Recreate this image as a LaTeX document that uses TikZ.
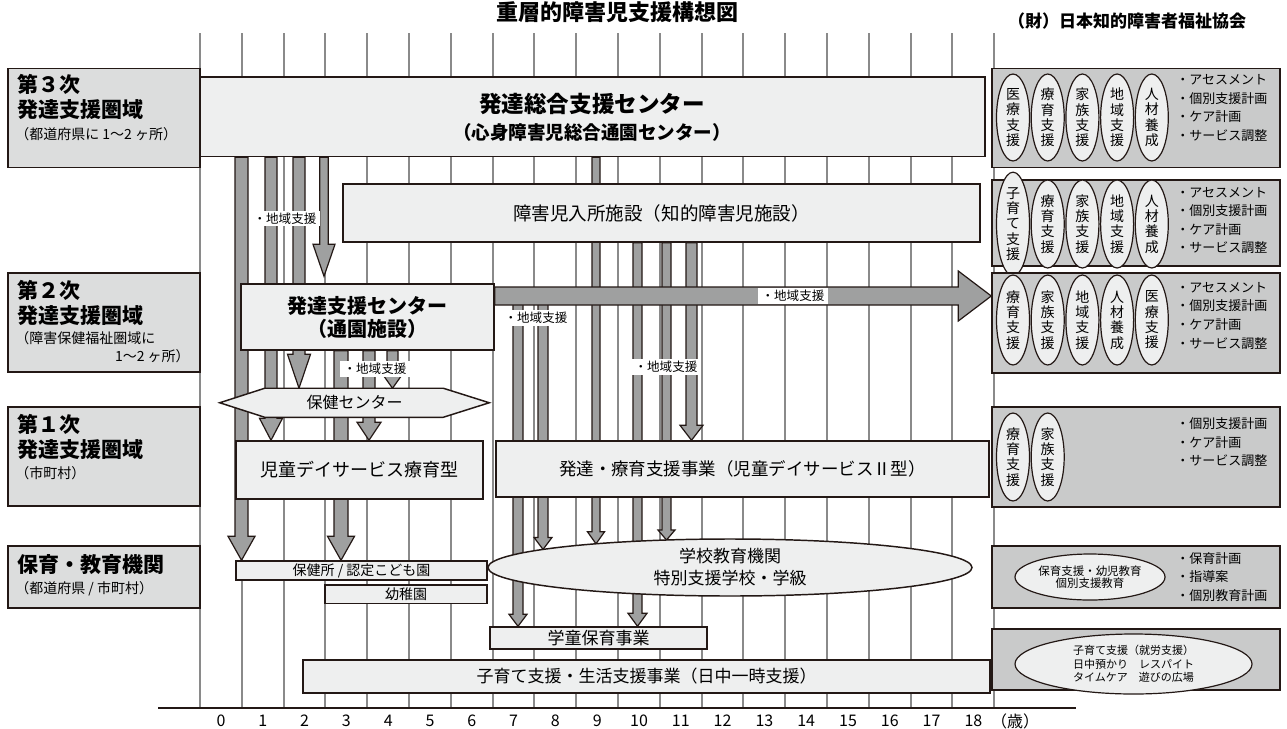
\documentclass[tikz,border=0pt]{standalone}
\usepackage{fontspec}
\setmainfont{Noto Sans CJK JP}
\usepackage{xcolor}
\usepackage{tikz}
\usetikzlibrary{shapes,calc,positioning}

\definecolor{ink}{HTML}{231815}
\definecolor{boxgray}{HTML}{EEEFEF}
\definecolor{tiergray}{HTML}{DCDDDD}
\definecolor{sidegray}{HTML}{C9CACA}
\definecolor{bargray}{HTML}{9FA0A0}
\definecolor{linegray}{HTML}{8A8A8A}

\newdimen\pxu
\pxu=0.75pt

\pgfdeclarelayer{back}
\pgfdeclarelayer{mid}
\pgfsetlayers{back,mid,main}

% fat down arrow: from, to, shaft width, head width, head length
\newcommand{\fatarrow}[5]{%
  \draw[fatbar] ($(#1)+(-#3/2,0)$) -- ($(#2)+(-#3/2,-#5)$) -- ($(#2)+(-#4/2,-#5)$) -- (#2)
    -- ($(#2)+(#4/2,-#5)$) -- ($(#2)+(#3/2,-#5)$) -- ($(#1)+(#3/2,0)$) -- cycle;}

\begin{document}
\begin{tikzpicture}[x=0.75pt, y=-0.75pt,
        box/.style={rectangle, draw=ink, line width=1.1pt, fill=boxgray, inner sep=0pt},
        tier/.style={rectangle, draw=ink, line width=1.1pt, fill=tiergray, minimum width=192\pxu},
        side/.style={rectangle, draw=ink, line width=1.1pt, fill=sidegray, minimum width=288\pxu},
        oval/.style={ellipse, draw=ink, line width=0.9pt, fill=boxgray, inner sep=0pt, align=center},
        vtext/.style={oval, minimum width=33\pxu, font=\fontsize{10.5pt}{11.5pt}\selectfont},
        fatbar/.style={draw=ink, line width=0.9pt, fill=bargray},
        ageline/.style={draw=linegray, line width=1.5pt},
        tag/.style={fill=white, inner xsep=3pt, inner ysep=1.5pt, font=\fontsize{9.4pt}{11pt}\selectfont},
        tiername/.style={anchor=west, align=left, inner sep=0pt, font=\bfseries\fontsize{15.75pt}{19pt}\selectfont},
        tiernote/.style={anchor=west, inner sep=0pt, font=\fontsize{10.5pt}{12pt}\selectfont},
        bullets/.style={anchor=west, align=left, inner sep=0pt, font=\fontsize{9.75pt}{13.9pt}\selectfont},
        agefont/.style={font=\fontsize{12pt}{14pt}\selectfont}
    ]
    \useasboundingbox (0,0) rectangle (1287,728);
    \begin{pgfonlayer}{back}
        \fill[white] (0,0) rectangle (1287,728);
        % age lines
        \foreach \k in {0,...,19}
            \draw[ageline] (200+41.8*\k,33) -- (200+41.8*\k,708);
    \end{pgfonlayer}

    % Headings
    \node[font=\bfseries\fontsize{16.5pt}{20pt}\selectfont] (title) at (617,12) {重層的障害児支援構想図};
    \node[font=\bfseries\fontsize{12.75pt}{15pt}\selectfont] (org_name) at (1127,21) {（財）日本知的障害者福祉協会};

    % Age axis
    \draw[ink, line width=1.1pt] (158,708) -- (1076,708);
    \foreach \k in {0,...,18}
        \node[agefont] (age\k) at (221+41.8*\k,721) {\k};
    \node[agefont] (age_unit) at (1015,721) {（歳）};

    % Tiers (left column)
    \node[tier, minimum height=99\pxu] (tier3) at (104,118) {};
    \node[tiername] (tier3_name) at (17,97) {第３次\\発達支援圏域};
    \node[tiernote] (tier3_note) at (15,134) {（都道府県に 1～2 ヶ所）};

    \node[tier, minimum height=99\pxu] (tier2) at (104,322.5) {};
    \node[tiername] (tier2_name) at (17,302.75) {第２次\\発達支援圏域};
    \node[tiernote] (tier2_note) at (15,338) {（障害保健福祉圏域に};
    \node[tiernote, anchor=east] (tier2_note_b) at (190,356.5) {1～2 ヶ所）};

    \node[tier, minimum height=99\pxu] (tier1) at (104,456.5) {};
    \node[tiername] (tier1_name) at (17,436.8) {第１次\\発達支援圏域};
    \node[tiernote] (tier1_note) at (15,473) {（市町村）};

    \node[tier, minimum height=62\pxu] (tier_edu) at (104,577) {};
    \node[tiername] (tier_edu_name) at (17,565) {保育・教育機関};
    \node[tiernote] (tier_edu_note) at (15,588.6) {（都道府県 / 市町村）};

    % Services (middle)
    \node[box, minimum width=785\pxu, minimum height=79.5\pxu] (sogo_center) at (592.5,116.75) {};
    \node[font=\bfseries\fontsize{16.9pt}{20pt}\selectfont] (sogo_title) at (592,104) {発達総合支援センター};
    \node[font=\bfseries\fontsize{13.9pt}{16pt}\selectfont] (sogo_sub) at (592,132) {（心身障害児総合通園センター）};

    \node[box, minimum width=637\pxu, minimum height=58\pxu, font=\fontsize{13.9pt}{16pt}\selectfont] (nyusho) at (661.5,213) {障害児入所施設（知的障害児施設）};

    \node[box, minimum width=253\pxu, minimum height=66\pxu, align=center, font=\bfseries\fontsize{15pt}{17.25pt}\selectfont] (hattatsu_center) at (367.5,317) {発達支援センター\\（通園施設）};

    % Health center (hexagon)
    \node[minimum width=269\pxu, minimum height=28.5\pxu, inner sep=0pt] (hoken_center) at (354.5,402.75) {};
    \draw[ink, line width=1.1pt, fill=boxgray] (hoken_center.west) -- ([shift={(45,0)}]hoken_center.north west)
        -- ([shift={(-46,0)}]hoken_center.north east) -- (hoken_center.east)
        -- ([shift={(-46,0)}]hoken_center.south east) -- ([shift={(45,0)}]hoken_center.south west) -- cycle;
    \node[font=\fontsize{12pt}{14pt}\selectfont] (hoken_label) at (hoken_center) {保健センター};

    \node[box, minimum width=247\pxu, minimum height=58\pxu, font=\fontsize{13.5pt}{16pt}\selectfont] (jidou_day) at (359.5,470) {児童デイサービス療育型};
    \node[box, minimum width=493\pxu, minimum height=56\pxu, font=\fontsize{13.1pt}{16pt}\selectfont] (ryoiku_jigyo) at (742.5,469) {発達・療育支援事業（児童デイサービスⅡ型）};

    \node[box, minimum width=251\pxu, minimum height=19\pxu, font=\fontsize{10.5pt}{12pt}\selectfont] (hokensho) at (361.5,570.5) {保健所 / 認定こども園};
    \node[box, minimum width=162\pxu, minimum height=18.5\pxu, font=\fontsize{10.5pt}{12pt}\selectfont] (youchien) at (406,594.25) {幼稚園};
    \node[oval, minimum width=484\pxu, minimum height=57\pxu, line width=1.1pt, font=\fontsize{12.75pt}{16.5pt}\selectfont] (gakkou) at (730,567.5) {学校教育機関\\特別支援学校・学級};
    \node[box, minimum width=217\pxu, minimum height=22\pxu, font=\fontsize{12.75pt}{15pt}\selectfont] (gakudou) at (598.5,638) {学童保育事業};
    \node[box, minimum width=687\pxu, minimum height=33\pxu, font=\fontsize{12.75pt}{15pt}\selectfont] (kosodate) at (646.5,676.5) {子育て支援・生活支援事業（日中一時支援）};

    % Support functions (right column)
    \node[side, minimum height=99\pxu] (r_tier3) at (1136,118) {};
    \foreach \t [count=\i from 0] in {{医\\療\\支\\援},{療\\育\\支\\援},{家\\族\\支\\援},{地\\域\\支\\援},{人\\材\\養\\成}}
        \node[vtext, minimum height=87\pxu] (r_tier3_oval\i) at (1013+34.7*\i,117.5) {\t};
    \node[bullets] (r_tier3_list) at (1176,108) {・アセスメント\\・個別支援計画\\・ケア計画\\・サービス調整};

    \node[side, minimum height=86\pxu] (r_nyusho) at (1136,223) {};
    \foreach \t [count=\i from 0] in {{子\\育\\て\\支\\援},{療\\育\\支\\援},{家\\族\\支\\援},{地\\域\\支\\援},{人\\材\\養\\成}}
        \node[vtext, minimum height=88\pxu] (r_nyusho_oval\i) at (1013+34.7*\i,224) {\t};
    \node[bullets] (r_nyusho_list) at (1176,220.5) {・アセスメント\\・個別支援計画\\・ケア計画\\・サービス調整};

    \node[side, minimum height=100\pxu] (r_tier2) at (1136,323) {};
    \foreach \t [count=\i from 0] in {{療\\育\\支\\援},{家\\族\\支\\援},{地\\域\\支\\援},{人\\材\\養\\成},{医\\療\\支\\援}}
        \node[vtext, minimum height=90\pxu] (r_tier2_oval\i) at (1013+34.7*\i,320) {\t};
    \node[bullets] (r_tier2_list) at (1176,315.75) {・アセスメント\\・個別支援計画\\・ケア計画\\・サービス調整};

    \node[side, minimum height=100\pxu] (r_tier1) at (1136,457) {};
    \foreach \t [count=\i from 0] in {{療\\育\\支\\援},{家\\族\\支\\援}}
        \node[vtext, minimum height=88\pxu] (r_tier1_oval\i) at (1013+34.7*\i,457) {\t};
    \node[bullets] (r_tier1_list) at (1176,442.5) {・個別支援計画\\・ケア計画\\・サービス調整};

    \node[side, minimum height=62\pxu] (r_edu) at (1136,577) {};
    \node[oval, minimum width=150\pxu, minimum height=46\pxu, font=\fontsize{8.6pt}{9.2pt}\selectfont] (r_edu_oval) at (1090,577) {保育支援・幼児教育\\個別支援教育};
    \node[bullets] (r_edu_list) at (1176,577) {・保育計画\\・指導案\\・個別教育計画};

    \node[side, minimum height=61\pxu] (r_life) at (1136,659.5) {};
    \node[oval, minimum width=237\pxu, minimum height=60\pxu, font=\fontsize{8.25pt}{10.1pt}\selectfont] (r_life_oval) at (1133.5,664) {子育て支援（就労支援）\\日中預かり　レスパイト\\タイムケア　遊びの広場};

    % Arrow ends
    \coordinate (h_start) at (hattatsu_center.east |- 0,296);
    \coordinate (h_end) at (r_tier2.west |- 0,296);
    \coordinate (to_hattatsu) at ($(324,0 |- hattatsu_center.north)+(0,-7)$);
    \coordinate (to_gakkou_a) at ($(gakkou.center)+(-187,-18.1)$);
    \coordinate (to_gakkou_b) at ($(gakkou.center)+(-134,-23.7)$);
    \coordinate (to_gakkou_c) at ($(gakkou.center)+(-63.5,-27.5)$);

    % Down arrows (behind the boxes)
    \begin{pgfonlayer}{mid}
        \fatarrow{241.5,0 |- sogo_center.south}{241.5,0 |- hokensho.north}{13}{27}{24}
        \fatarrow{271,0 |- sogo_center.south}{271,0 |- jidou_day.north}{12}{23}{22}
        \fatarrow{299,0 |- sogo_center.south}{299,0 |- hoken_center.north}{12}{23}{34}
        \fatarrow{324,0 |- sogo_center.south}{to_hattatsu}{8.5}{22}{32}
        \fatarrow{341,0 |- hattatsu_center.south}{341,0 |- hokensho.north}{14}{27}{24}
        \fatarrow{369,0 |- hattatsu_center.south}{369,0 |- jidou_day.north}{12}{24}{18}
        \fatarrow{392.5,0 |- hattatsu_center.south}{392.5,0 |- hoken_center.north}{11}{17}{12}
        \fatarrow{518,0 |- h_start}{518,0 |- gakudou.north}{10}{18}{12}
        \fatarrow{543,0 |- h_start}{to_gakkou_a}{10}{18}{12}
        \fatarrow{596,0 |- sogo_center.south}{to_gakkou_b}{8}{17}{12}
        \fatarrow{637.5,0 |- nyusho.south}{637.5,0 |- gakudou.north}{9}{19}{13}
        \fatarrow{666.5,0 |- nyusho.south}{to_gakkou_c}{9}{17}{10}
        \fatarrow{691.5,0 |- nyusho.south}{691.5,0 |- ryoiku_jigyo.north}{11}{23}{15}
    \end{pgfonlayer}

    % Regional support arrow to the right
    \draw[fatbar] ([shift={(0,-9)}]h_start) -- ([shift={(-33,-9)}]h_end) -- ([shift={(-33,-25)}]h_end) -- (h_end)
        -- ([shift={(-33,25)}]h_end) -- ([shift={(-33,9)}]h_end) -- ([shift={(0,9)}]h_start) -- cycle;

    % Labels
    \node[tag] (tag_a) at (285,218.5) {・地域支援};
    \node[tag] (tag_b) at (375,369) {・地域支援};
    \node[tag] (tag_c) at (536,318) {・地域支援};
    \node[tag] (tag_d) at (793,296) {・地域支援};
    \node[tag] (tag_e) at (666,367) {・地域支援};

\end{tikzpicture}
\end{document}
